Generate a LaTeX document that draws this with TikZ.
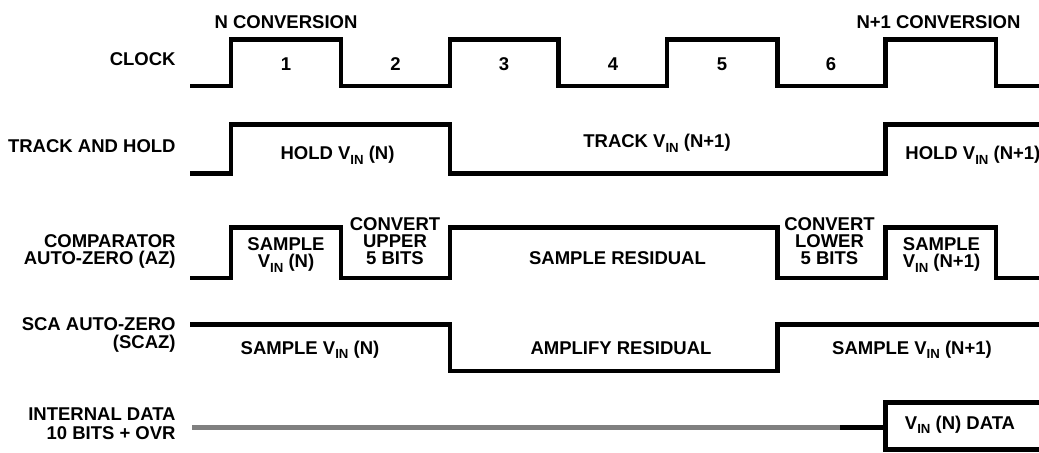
\documentclass[tikz,border=0pt]{standalone}
\usepackage{fontspec}
\setmainfont{Liberation Sans}
\usetikzlibrary{positioning}
\definecolor{bus}{RGB}{128,128,128}
\newcommand{\vin}{V\raisebox{-2.3pt}{\fontsize{6.6}{6.6}\selectfont IN}}

\begin{document}
\begin{tikzpicture}[x=0.5pt,y=-0.5pt,font=\fontsize{9.25}{8.4}\selectfont\bfseries,
  sig/.style={line width=2.25pt,line join=miter},
  lbl/.style={anchor=base east,align=right,inner sep=0pt},
  txt/.style={anchor=base,align=center,inner sep=0pt}]
  \useasboundingbox (0,0) rectangle (1039,452);
  % row names (base = last line)
  \node[lbl] (clk) at (176,65.6) {CLOCK};
  \node[lbl] (th) at (176,152.6) {TRACK AND HOLD};
  \node[lbl] (az) at (176,264) {COMPARATOR\\AUTO-ZERO (AZ)};
  \node[lbl] (scaz) at (176,348.4) {SCA AUTO-ZERO\\[0.6pt](SCAZ)};
  \node[lbl] (data) at (176,439.6) {INTERNAL DATA\\[1.2pt]10 BITS + OVR};
  % clock
  \draw[sig] (190,86) foreach \r/\f in {231/341,450/558.5,667/777.5,885.5/996}{
    -- (\r,86) -- (\r,39.5) -- (\f,39.5) -- (\f,86)} -- (1039,86);
  \node[txt] (nconv) at (286,28) {N CONVERSION};
  \node[txt] (n1conv) at (938.5,28) {N+1 CONVERSION};
  \foreach \n/\x in {1/286,2/395.5,3/504,4/613,5/722,6/831}
    \node[txt] (c\n) at (\x,70.6) {\n};
  % track and hold
  \draw[sig] (190,173.5) -- (231,173.5) -- (231,124.5) -- (450,124.5) -- (450,173.5)
    -- (885.5,173.5) -- (885.5,124.5) -- (1039,124.5);
  \node[txt] (holdn) at (337.5,159.6) {HOLD \vin{} (N)};
  \node[txt] (track) at (657,147.6) {TRACK \vin{} (N+1)};
  \node[anchor=base west,inner sep=0pt] (holdn1) at (905,159.6) {HOLD \vin{} (N+1)};
  % comparator auto-zero
  \draw[sig] (190,278) -- (231,278) -- (231,227.5) -- (341,227.5) -- (341,278) -- (450,278)
    -- (450,227.5) -- (777.5,227.5) -- (777.5,278) -- (885.5,278) -- (885.5,227.5)
    -- (996,227.5) -- (996,278) -- (1039,278);
  \node[txt] (sampn) at (286,267.6) {SAMPLE\\\vin{} (N)};
  \node[txt] (cvup) at (395,264) {CONVERT\\UPPER\\5 BITS};
  \node[txt] (sres) at (617.5,264) {SAMPLE RESIDUAL};
  \node[txt] (cvlo) at (829.5,264) {CONVERT\\LOWER\\5 BITS};
  \node[txt] (sampn1) at (941.5,267.6) {SAMPLE\\\vin{} (N+1)};
  % sca auto-zero
  \draw[sig] (190,324.5) -- (450,324.5) -- (450,371) -- (777.5,371) -- (777.5,324.5) -- (1039,324.5);
  \node[txt] (scan) at (310,354) {SAMPLE \vin{} (N)};
  \node[txt] (amp) at (621,354) {AMPLIFY RESIDUAL};
  \node[txt] (scan1) at (912,354) {SAMPLE \vin{} (N+1)};
  % internal data
  \draw[sig,bus] (192,427.5) -- (842,427.5);
  \draw[sig] (840,427.5) -- (885.5,427.5);
  \draw[sig] (1039,402.5) -- (885.5,402.5) -- (885.5,449.5) -- (1039,449.5);
  \node[txt] (vdata) at (960,429) {\vin{} (N) DATA};
\end{tikzpicture}
\end{document}
